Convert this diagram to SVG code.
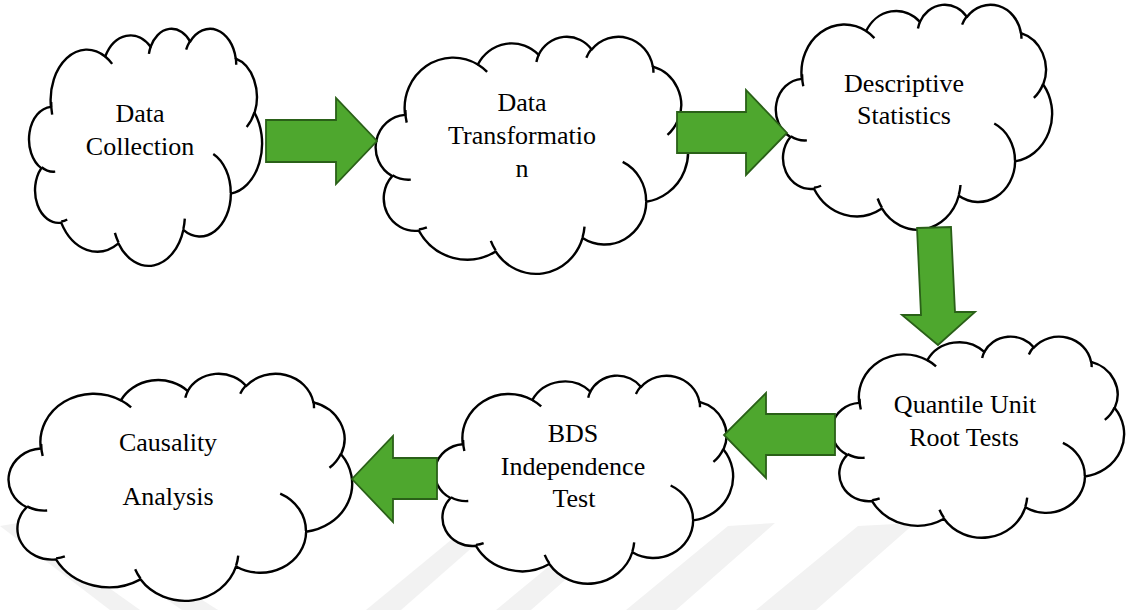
<svg xmlns="http://www.w3.org/2000/svg" xmlns:xlink="http://www.w3.org/1999/xlink" width="1129" height="610" viewBox="0 0 1129 610">
<style>
.outline{fill:#ffffff;stroke:#000000;stroke-width:2.4;stroke-linejoin:round}
.crease{fill:none;stroke:#000000;stroke-width:2.4;stroke-linecap:butt}
.lbl{font-family:'Liberation Serif','DejaVu Serif',serif;font-size:26px;fill:#000000;text-anchor:middle}
.arrow{fill:#4EA72E;stroke:#2A6018;stroke-width:1.8;stroke-linejoin:miter}
.wm{fill:#f2f2f2}
</style>
<defs>
<g id="cloud">
<path class="outline" vector-effect="non-scaling-stroke" d="M39.00,143.70 A67.53,91.90 0 0 1 140.05,52.02 A53.33,72.67 0 0 1 224.56,34.32 A43.65,59.45 0 0 1 298.33,24.80 A48.57,65.95 0 0 1 383.18,55.76 A53.33,72.73 0 0 1 418.19,154.60 A67.75,92.20 0 0 1 374.04,302.03 A57.85,78.67 0 0 1 285.55,368.13 A67.52,92.15 0 0 1 164.79,392.64 A77.20,105.43 0 0 1 58.04,354.71 A43.60,59.18 0 0 1 21.13,255.49 A43.45,59.45 0 0 1 39.00,143.70 Z"/>
<path class="crease" vector-effect="non-scaling-stroke" d="M46.93,261.77 A43.45,59.45 0 0 1 21.61,253.81 M69.28,348.99 A43.60,59.18 0 0 1 58.20,352.80 M164.78,390.90 A67.52,92.15 0 0 1 158.11,373.50 M288.27,347.51 A67.52,92.15 0 0 1 285.60,366.60 M341.29,229.54 A57.85,78.67 0 0 1 373.81,300.90 M417.98,153.54 A53.33,72.73 0 0 1 403.50,180.30 M383.24,54.26 A48.57,65.95 0 0 1 384.00,66.90 M290.78,39.52 A48.57,65.95 0 0 1 298.20,23.40 M221.41,47.20 A43.65,59.45 0 0 1 225.00,33.30 M140.00,51.92 A67.53,91.90 0 0 1 153.00,65.41 M41.27,157.89 A67.53,91.90 0 0 1 39.44,134.87"/>
</g>
</defs>
<rect x="0" y="0" width="1129" height="610" fill="#ffffff"/>
<g id="watermark">
<polygon class="wm" points="0,526 18,523 140,610 110,610"/>
<polygon class="wm" points="80,540 100,535 218,610 182,610"/>
<polygon class="wm" points="468,526 500,523 401,610 366,610"/>
<polygon class="wm" points="598,526 630,523 531,610 496,610"/>
<polygon class="wm" points="728,526 775,523 676,610 626,610"/>
<polygon class="wm" points="858,526 915,523 816,610 756,610"/>
</g>
<g id="node-data-collection">
<use xlink:href="#cloud" transform="translate(30,28) scale(0.5370,0.5486)"/>
<text class="lbl" font-family="Liberation Serif, DejaVu Serif, serif" x="140" y="122">Data</text>
<text class="lbl" font-family="Liberation Serif, DejaVu Serif, serif" x="140" y="155">Collection</text>
</g>
<g id="node-data-transformation">
<use xlink:href="#cloud" transform="translate(377,36) scale(0.7199,0.5486)"/>
<text class="lbl" font-family="Liberation Serif, DejaVu Serif, serif" x="522" y="111">Data</text>
<text class="lbl" font-family="Liberation Serif, DejaVu Serif, serif" x="522" y="144">Transformatio</text>
<text class="lbl" font-family="Liberation Serif, DejaVu Serif, serif" x="522" y="177">n</text>
</g>
<g id="node-descriptive-statistics">
<use xlink:href="#cloud" transform="translate(777,4) scale(0.6366,0.5208)"/>
<text class="lbl" font-family="Liberation Serif, DejaVu Serif, serif" x="904" y="92">Descriptive</text>
<text class="lbl" font-family="Liberation Serif, DejaVu Serif, serif" x="904" y="124">Statistics</text>
</g>
<g id="node-quantile-unit-root-tests">
<use xlink:href="#cloud" transform="translate(833,336) scale(0.6736,0.4653)"/>
<text class="lbl" font-family="Liberation Serif, DejaVu Serif, serif" x="965" y="413">Quantile Unit</text>
<text class="lbl" font-family="Liberation Serif, DejaVu Serif, serif" x="964" y="446">Root Tests</text>
</g>
<g id="node-bds-independence-test">
<use xlink:href="#cloud" transform="translate(436,375) scale(0.6875,0.4815)"/>
<text class="lbl" font-family="Liberation Serif, DejaVu Serif, serif" x="573" y="442">BDS</text>
<text class="lbl" font-family="Liberation Serif, DejaVu Serif, serif" x="573" y="475">Independence</text>
<text class="lbl" font-family="Liberation Serif, DejaVu Serif, serif" x="574" y="507">Test</text>
</g>
<g id="node-causality-analysis">
<use xlink:href="#cloud" transform="translate(10,373) scale(0.7917,0.5255)"/>
<text class="lbl" font-family="Liberation Serif, DejaVu Serif, serif" x="168" y="451">Causality</text>
<text class="lbl" font-family="Liberation Serif, DejaVu Serif, serif" x="168" y="505">Analysis</text>
</g>
<g id="connectors">
<polygon class="arrow" points="266,120 336,120 336,98 377,141 336,184 336,162 266,162"/>
<polygon class="arrow" points="677,112 746,112 746,90 787,133 746,175 746,153 677,153"/>
<polygon class="arrow" points="917,228 951,227 955,312 975,312 938,345 902,315 921,315"/>
<polygon class="arrow" points="835,414 766,414 766,393 724,435 766,478 766,455 835,455"/>
<polygon class="arrow" points="437,458 393,458 393,436 352,479 393,522 393,499 437,499"/>
</g>
</svg>
